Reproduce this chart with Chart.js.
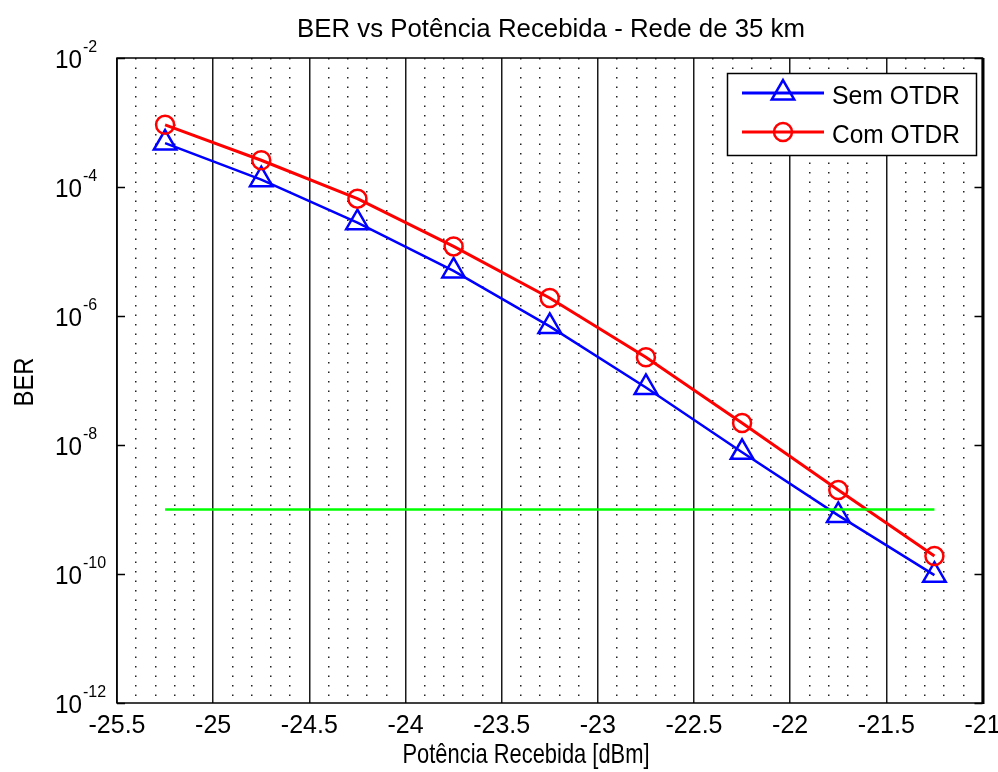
<!DOCTYPE html>
<html>
<head>
<meta charset="utf-8">
<script src="https://cdn.jsdelivr.net/npm/chart.js@4.4.0/dist/chart.umd.min.js"></script>
<style>
html,body{margin:0;padding:0;background:#fff;overflow:hidden}
#wrap{width:998px;height:772px;position:relative}
</style>
</head>
<body>
<div id="wrap"><canvas id="c" width="998" height="772"></canvas></div>
<script>
// ---------- data ----------
const chartTitle = 'BER vs Potência Recebida - Rede de 35 km';
const xAxisTitle = 'Potência Recebida [dBm]';
const yAxisTitle = 'BER';
const seriesNames = ['Sem OTDR', 'Com OTDR'];
const power = [-25.25, -24.75, -24.25, -23.75, -23.25, -22.75, -22.25, -21.75, -21.25];
const berSemOTDR = [4.8e-4, 1.3e-4, 2.8e-5, 5.0e-6, 6.9e-7, 7.8e-8, 7.7e-9, 8.1e-10, 9.6e-11];
const berComOTDR = [9.2e-4, 2.6e-4, 6.6e-5, 1.2e-5, 1.9e-6, 2.3e-7, 2.2e-8, 2.0e-9, 1.9e-10];
const limitPower = [-25.25, -21.25];
const limitBER = [1e-9, 1e-9];
const xTickValues = [-25.5, -25, -24.5, -24, -23.5, -23, -22.5, -22, -21.5, -21];
const xTickLabels = ['-25.5', '-25', '-24.5', '-24', '-23.5', '-23', '-22.5', '-22', '-21.5', '-21'];
const yTickExponents = [-12, -10, -8, -6, -4, -2];

// ---------- helpers ----------
const FONT = "'Liberation Sans', Arial, Helvetica, sans-serif";

function scaledText(ctx, text, x, y, size, targetW, align, rot) {
  ctx.save();
  ctx.font = size + 'px ' + FONT;
  const w = ctx.measureText(text).width;
  const sx = targetW ? targetW / w : 1;
  ctx.translate(x, y);
  if (rot) ctx.rotate(rot);
  ctx.scale(sx, 1);
  ctx.textAlign = align || 'left';
  ctx.textBaseline = 'alphabetic';
  ctx.fillStyle = '#000';
  ctx.fillText(text, 0, 0);
  ctx.restore();
}

function drawMarker(ctx, style, r, x, y) {
  ctx.beginPath();
  if (style === 'triangle') {
    let a = 0;
    ctx.moveTo(x + Math.sin(a) * r, y - Math.cos(a) * r);
    a += 2 * Math.PI / 3;
    ctx.lineTo(x + Math.sin(a) * r, y - Math.cos(a) * r);
    a += 2 * Math.PI / 3;
    ctx.lineTo(x + Math.sin(a) * r, y - Math.cos(a) * r);
    ctx.closePath();
  } else {
    ctx.arc(x, y, r, 0, Math.PI * 2);
  }
  ctx.stroke();
}

const toPoints = (xs, ys) => xs.map((x, i) => ({x: x, y: ys[i]}));

// ---------- decoration plugin ----------
const decor = {
  id: 'decor',
  afterDraw(chart) {
    const {ctx, chartArea: a, scales} = chart;
    const ys = scales.y;
    ctx.save();
    // frame
    ctx.strokeStyle = '#000';
    ctx.lineWidth = 1.5;
    ctx.strokeRect(a.left, a.top, a.right - a.left, a.bottom - a.top);
    ctx.lineWidth = 3;
    ctx.beginPath(); ctx.moveTo(a.right + 0.5, a.top); ctx.lineTo(a.right + 0.5, a.bottom + 1); ctx.stroke();

    // y ticks (inward) and labels 10^n
    ctx.lineWidth = 1.5;
    ys.ticks.forEach(t => {
      const py = Math.round(ys.getPixelForValue(t.value)) + 0.5;
      ctx.strokeStyle = '#000';
      ctx.beginPath();
      ctx.moveTo(a.left, py); ctx.lineTo(a.left + 8, py);
      ctx.moveTo(a.right, py); ctx.lineTo(a.right - 8, py);
      ctx.stroke();
      const e = Math.round(Math.log10(t.value));
      const baseX = a.left - 62;
      scaledText(ctx, '10', baseX, py + 9.5, 26, 27, 'left');
      ctx.font = '16px ' + FONT;
      ctx.fillStyle = '#000';
      ctx.textAlign = 'left';
      ctx.textBaseline = 'alphabetic';
      ctx.fillText(String(e), baseX + 28, py - 7);
    });

    // titles
    scaledText(ctx, chartTitle, 551, 37, 25, 508, 'center');
    scaledText(ctx, xAxisTitle, 526, 763, 28, 247, 'center');
    scaledText(ctx, yAxisTitle, 33, 382, 28, 49, 'center', -Math.PI / 2);

    // legend
    const lx = 727, ly = 73, lw = 249, lh = 82;
    ctx.fillStyle = '#fff';
    ctx.fillRect(lx, ly, lw, lh);
    ctx.strokeStyle = '#000';
    ctx.lineWidth = 1.5;
    ctx.strokeRect(lx + 0.5, ly + 0.5, lw, lh);
    const rows = [93, 132];
    chart.data.datasets.filter(d => seriesNames.includes(d.label)).forEach(d => {
      const i = seriesNames.indexOf(d.label);
      const ry = rows[i];
      ctx.strokeStyle = d.borderColor;
      ctx.lineWidth = 3;
      ctx.beginPath(); ctx.moveTo(742, ry); ctx.lineTo(824, ry); ctx.stroke();
      ctx.lineWidth = d.pointBorderWidth;
      drawMarker(ctx, d.pointStyle, d.pointRadius, 783, ry);
      scaledText(ctx, d.label, 832, ry + 11, 25, 128, 'left');
    });
    ctx.restore();
  }
};

// ---------- chart ----------
const chart = new Chart(document.getElementById('c'), {
  type: 'line',
  data: {
    datasets: [
      {
        label: seriesNames[0],
        data: toPoints(power, berSemOTDR),
        borderColor: '#0000ff',
        backgroundColor: 'rgba(0,0,0,0)',
        borderWidth: 2.5,
        pointStyle: 'triangle',
        pointRadius: 13,
        pointBorderWidth: 2.5,
        pointBorderColor: '#0000ff',
        pointBackgroundColor: 'rgba(0,0,0,0)',
        tension: 0,
        order: 2
      },
      {
        label: seriesNames[1],
        data: toPoints(power, berComOTDR),
        borderColor: '#ff0000',
        backgroundColor: 'rgba(0,0,0,0)',
        borderWidth: 3,
        pointStyle: 'circle',
        pointRadius: 9,
        pointBorderWidth: 2.5,
        pointBorderColor: '#ff0000',
        pointBackgroundColor: 'rgba(0,0,0,0)',
        tension: 0,
        order: 1
      },
      {
        label: 'limite',
        data: toPoints(limitPower, limitBER),
        borderColor: '#00ff00',
        borderWidth: 2.5,
        pointRadius: 0,
        tension: 0,
        order: 0
      }
    ]
  },
  options: {
    responsive: false,
    animation: false,
    devicePixelRatio: 1,
    layout: {padding: {left: 0, right: 11, top: 58, bottom: 0}},
    plugins: {legend: {display: false}, tooltip: {enabled: false}, title: {display: false}},
    scales: {
      x: {
        type: 'linear',
        position: 'bottom',
        min: -25.5,
        max: -21,
        afterBuildTicks: s => { s.ticks = xTickValues.map(v => ({value: v})); },
        afterFit: s => { s.height = 69; s.paddingLeft = 0; s.paddingRight = 0; },
        grid: {color: '#1a1a1a', lineWidth: 1.5, drawTicks: false},
        border: {display: false},
        ticks: {
          autoSkip: false,
          maxRotation: 0,
          minRotation: 0,
          padding: 8,
          color: '#000',
          font: {family: FONT, size: 25},
          callback: (v) => { const i = xTickValues.indexOf(v); return i >= 0 ? xTickLabels[i] : ''; }
        }
      },
      xMinor: {
        type: 'linear',
        position: 'bottom',
        min: -25.5,
        max: -21,
        afterBuildTicks: s => {
          const t = [];
          for (let k = 0; k <= 45; k++) {
            if (k % 5 !== 0) t.push({value: -25.5 + k * 0.1});
          }
          s.ticks = t;
        },
        afterFit: s => { s.height = 0; s.paddingLeft = 0; s.paddingRight = 0; },
        grid: {color: '#222', lineWidth: 1.5, drawTicks: false},
        border: {display: false, dash: [1.5, 8]},
        ticks: {display: false}
      },
      y: {
        type: 'logarithmic',
        position: 'left',
        min: 1e-12,
        max: 1e-2,
        afterBuildTicks: s => { s.ticks = yTickExponents.map(e => ({value: Math.pow(10, e)})); },
        afterFit: s => { s.width = 117; },
        grid: {display: false},
        border: {display: false},
        ticks: {display: false}
      }
    }
  },
  plugins: [decor]
});
</script>
</body>
</html>
